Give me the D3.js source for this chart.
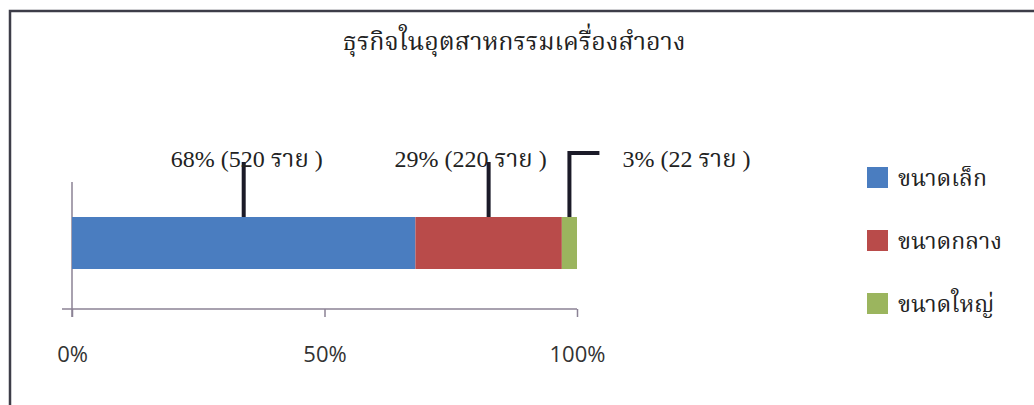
<!DOCTYPE html>
<html>
<head>
<meta charset="utf-8">
<script src="https://cdn.jsdelivr.net/npm/d3@7"></script>
<style>
  html, body { margin: 0; padding: 0; background: #fff; }
  svg { display: block; }
  .thai { font-family: "Liberation Serif", "Noto Serif Thai", "Noto Sans Thai", "DejaVu Serif", serif; fill: #222; }
  .tick text { font-family: "Open Sans", "Liberation Sans", sans-serif; }
</style>
</head>
<body>
<svg id="chart" width="1034" height="405"></svg>
<script>
// Business size breakdown in the cosmetics industry
const title = "ธุรกิจในอุตสาหกรรมเครื่องสำอาง";
const segments = ["ขนาดเล็ก", "ขนาดกลาง", "ขนาดใหญ่"];
const percents = [68, 29, 3];
const counts = [520, 220, 22];
const tickValues = [0, 50, 100];
const colors = ["#4a7dc0", "#b94b4a", "#9bb55e"];

const svg = d3.select("#chart");

// outer frame (left and top edges)
svg.append("path")
  .attr("d", "M10,405 V11 H1034")
  .attr("fill", "none")
  .attr("stroke", "#3d3d48")
  .attr("stroke-width", 2.5);

svg.append("text")
  .attr("class", "thai")
  .attr("x", 514).attr("y", 50)
  .attr("text-anchor", "middle")
  .attr("font-size", 25)
  .text(title);

const x = d3.scaleLinear().domain([0, 100]).range([72, 577]);
const y = d3.scaleBand().domain(["all"]).range([217, 269]).padding(0);

// stacked segments
let acc = 0;
const stack = percents.map((p, i) => {
  const d = { name: segments[i], value: p, count: counts[i], start: acc, end: acc + p, color: colors[i] };
  acc += p;
  return d;
});

const axisColor = "#8b8295";

// vertical category axis
svg.append("line")
  .attr("x1", x(0)).attr("x2", x(0))
  .attr("y1", 182).attr("y2", 317)
  .attr("stroke", axisColor).attr("stroke-width", 1.5);

// horizontal value axis
const xAxis = d3.axisBottom(x)
  .tickValues(tickValues)
  .tickSize(8)
  .tickPadding(29)
  .tickFormat(d => d + "%");
const gx = svg.append("g")
  .attr("transform", "translate(0,309)")
  .call(xAxis);
gx.select(".domain").remove();
gx.selectAll(".tick line").attr("stroke", axisColor).attr("stroke-width", 1.5);
gx.selectAll(".tick text")
  .attr("font-size", 22)
  .attr("fill", "#333");
gx.append("line")
  .attr("x1", x(0) - 10).attr("x2", x(100))
  .attr("y1", 0).attr("y2", 0)
  .attr("stroke", axisColor).attr("stroke-width", 1.5);

svg.selectAll("rect.seg")
  .data(stack)
  .join("rect")
  .attr("class", "seg")
  .attr("x", d => x(d.start))
  .attr("width", d => x(d.end) - x(d.start))
  .attr("y", y("all"))
  .attr("height", y.bandwidth())
  .attr("fill", d => d.color);

// leader lines and data labels
const leaderTop = [162, 162, 153];
const labelDx = [3, -18, 53];
const labelAnchor = ["middle", "middle", "start"];
const lineColor = "#1b1a28";

stack.forEach((d, i) => {
  const mx = x((d.start + d.end) / 2);
  let path = `M${mx},${y("all")} V${leaderTop[i]}`;
  if (labelAnchor[i] === "start") path += ` H${mx + 30}`;
  svg.append("path")
    .attr("d", path)
    .attr("fill", "none")
    .attr("stroke", lineColor)
    .attr("stroke-width", 4);
  svg.append("text")
    .attr("class", "thai")
    .attr("x", mx + labelDx[i])
    .attr("y", 167)
    .attr("text-anchor", labelAnchor[i])
    .attr("font-size", 24)
    .text(`${d.value}% (${d.count} ราย )`);
});

// legend
const legend = svg.append("g").attr("transform", "translate(867,0)");
segments.forEach((s, i) => {
  const cy = 178 + i * 63;
  legend.append("rect")
    .attr("x", 0).attr("y", cy - 11)
    .attr("width", 21).attr("height", 21)
    .attr("fill", colors[i]);
  legend.append("text")
    .attr("class", "thai")
    .attr("x", 31).attr("y", cy + 8)
    .attr("font-size", 23)
    .text(s);
});
</script>
</body>
</html>
